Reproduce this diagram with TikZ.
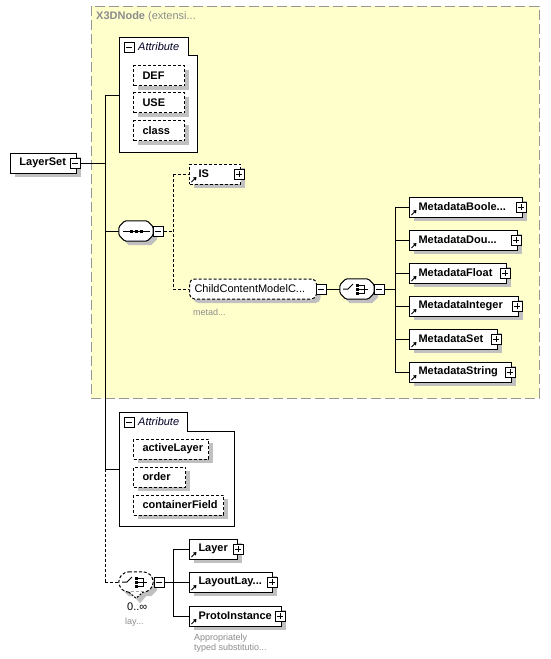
\documentclass[tikz,border=0pt]{standalone}
\usepackage{fontspec}
\setmainfont{Liberation Sans}
\usetikzlibrary{shadows,arrows.meta}
\definecolor{bgyellow}{RGB}{255,255,204}
\definecolor{bordergrey}{RGB}{150,150,150}
\definecolor{shadowgrey}{RGB}{192,192,192}
\definecolor{txtgrey}{RGB}{140,140,140}
\newcommand{\efont}{\fontsize{11}{13}\selectfont}
\newcommand{\sfontx}{\fontsize{9}{10.5}\selectfont}
\newcommand{\refarrow}[1]{\draw[line width=1pt,-{Triangle[length=3pt,width=4pt]}] ([xshift=2.5pt,yshift=2.5pt]#1.south west) -- ++(5,-5);}
\newcommand{\choicesym}[1]{\begin{scope}[shift={(#1)}]
 \draw[line width=1pt] (-14,0) -- (-9,0) -- (-4,-5);
 \fill (-1,-5.5) rectangle (2,-2.5); \fill (-1,-1.5) rectangle (2,1.5); \fill (-1,2.5) rectangle (2,5.5);
 \draw[line width=1pt] (2,-4) -- (7,-4) -- (7,4) -- (2,4); \draw[line width=1pt] (2,0) -- (11,0);
\end{scope}}
\newcommand{\seqsym}[1]{\begin{scope}[shift={(#1)}]
 \draw[line width=1pt] (-13,0) -- (14,0);
 \fill (-6.5,-1.5) rectangle (-3.5,1.5); \fill (-1.5,-1.5) rectangle (1.5,1.5); \fill (3.5,-1.5) rectangle (6.5,1.5);
\end{scope}}
\newcommand{\octopath}[3]{([xshift=#2+6pt,yshift=#3]#1.north west) -- ([xshift=#2-6pt,yshift=#3]#1.north east) -- ([xshift=#2,yshift=#3-6pt]#1.north east) -- ([xshift=#2,yshift=#3+6pt]#1.south east) -- ([xshift=#2-6pt,yshift=#3]#1.south east) -- ([xshift=#2+6pt,yshift=#3]#1.south west) -- ([xshift=#2,yshift=#3+6pt]#1.south west) -- ([xshift=#2,yshift=#3-6pt]#1.north west) -- cycle}
\tikzset{
 ln/.style={line width=1pt},
 dsh/.style={line width=1pt, dash pattern=on 3pt off 2pt},
 shad/.style={drop shadow={shadow xshift=4pt, shadow yshift=-4pt, fill=shadowgrey, opacity=1}},
 elem/.style={draw, line width=1pt, fill=white, shad, rectangle, minimum height=20pt, inner xsep=9pt, inner ysep=0pt, align=left, font=\efont\bfseries, anchor=west},
 opt/.style={dash pattern=on 3pt off 2pt},
 compbase/.style={rectangle, minimum width=34pt, minimum height=20pt, inner sep=0pt},
 minusbox/.style={draw, line width=1pt, fill=white, minimum size=10pt, inner sep=0pt,
   path picture={\draw[line width=1pt] ([xshift=2pt]path picture bounding box.west) -- ([xshift=-2pt]path picture bounding box.east);}},
 plusbox/.style={draw, line width=1pt, fill=white, minimum size=10pt, inner sep=0pt,
   path picture={\draw[line width=1pt] ([xshift=2pt]path picture bounding box.west) -- ([xshift=-2pt]path picture bounding box.east);
                 \draw[line width=1pt] ([yshift=-2pt]path picture bounding box.north) -- ([yshift=2pt]path picture bounding box.south);}},
 attrbox/.style={draw, line width=1pt, fill=white},
 attrlbl/.style={font=\efont\itshape, anchor=west, inner sep=0pt, text=black!85!blue},
 note/.style={font=\sfontx, text=txtgrey, anchor=west, inner sep=0pt, align=left},
}
\begin{document}
\begin{tikzpicture}[x=1pt,y=-1pt]
\useasboundingbox (0,0) rectangle (550,659);
\fill[white] (0,0) rectangle (550,659);
% extension region
\fill[bgyellow] (91,6) rectangle (539,398);
\draw[bordergrey, line width=1pt, dash pattern=on 10pt off 4pt] (91,6) rectangle (539,398);
\node[anchor=west, inner sep=0pt, text=txtgrey, font=\efont] (x3d) at (96,17) {\textbf{X3DNode} (extensi...};

% top attribute group
\draw[attrbox] (119,37) -- (188,37) -- (188,55) -- (197,55) -- (197,152) -- (119,152) -- cycle;
\node[minusbox] (am1) at (129,47) {};
\node[attrlbl] (al1) at (138,47) {Attribute};
\coordinate (attrA) at (119,95);
\node[elem, opt, text width=33pt] (def) at (133,75.5) {DEF};
\node[elem, opt, text width=33pt] (use) at (133,102.5) {USE};
\node[elem, opt, text width=33pt] (cls) at (133,130.5) {class};

% LayerSet
\node[elem, text width=48pt] (ls) at (10,163) {LayerSet};
\node[minusbox] (lsm) at (75,163) {};
\coordinate (j0) at (105,163);
\coordinate (ja) at (105,95);
\coordinate (js) at (105,231);
\coordinate (jb) at (105,469);
\coordinate (jc) at (105,582);
\coordinate (attrB) at (119,469);
\draw[ln] (lsm.east) -- (j0);
\draw[ln] (ja) -- (jb);
\draw[ln] (ja) -- (attrA);
\draw[ln] (jb) -- (attrB);

% sequence
\node[compbase] (seq) at (136,231) {};
\fill[shadowgrey] \octopath{seq}{4pt}{-4pt};
\draw[ln, fill=white, rounded corners=1.5pt] \octopath{seq}{0pt}{0pt};
\seqsym{seq.center}
\node[minusbox] (seqm) at (158,231) {};
\draw[ln] (js) -- (seq.west);
\coordinate (sj) at (173,231);
\coordinate (sjt) at (173,174);
\coordinate (sjb) at (173,289);
\draw[dsh] (seqm.east) -- (sj);
\draw[dsh] (sjt) -- (sjb);

% IS
\node[elem, opt, text width=33pt] (is) at (189,174) {IS};
\refarrow{is}
\node[plusbox] (isp) at (239,174) {};
\draw[dsh] (sjt) -- (is.west);

% ChildContentModel group
\node[draw, line width=1pt, opt, fill=white, shad, rounded corners=5pt, minimum width=127pt, minimum height=20pt, inner xsep=5pt, inner ysep=0pt, text width=117pt, align=left, font=\efont, anchor=west] (ccm) at (189,289) {ChildContentModelC...};
\node[minusbox] (ccmm) at (321,289) {};
\node[note] (metad) at (193,312) {metad...};
\draw[dsh] (sjb) -- (ccm.west);

% choice 1
\node[compbase] (ch1) at (357,289) {};
\fill[shadowgrey] \octopath{ch1}{4pt}{-4pt};
\draw[ln, fill=white, rounded corners=1.5pt] \octopath{ch1}{0pt}{0pt};
\choicesym{ch1.center}
\node[minusbox] (ch1m) at (379,289) {};
\draw[ln] (ccmm.east) -- (ch1.west);
\coordinate (mj) at (395,289);
\coordinate (mjt) at (395,207);
\coordinate (mjb) at (395,372);
\draw[ln] (ch1m.east) -- (mj);
\draw[ln] (mjt) -- (mjb);

% Metadata elements
\node[elem, text width=95pt] (m1) at (409,207) {MetadataBoole...};
\node[elem, text width=90pt] (m2) at (409,240) {MetadataDou...};
\node[elem, text width=79pt] (m3) at (409,273) {MetadataFloat};
\node[elem, text width=91pt] (m4) at (409,306) {MetadataInteger};
\node[elem, text width=70pt] (m5) at (409,339) {MetadataSet};
\node[elem, text width=84pt] (m6) at (409,372) {MetadataString};
\foreach \n in {m1,m2,m3,m4,m5,m6}{\refarrow{\n}}
\node[plusbox] (m1p) at (521,207) {};
\node[plusbox] (m2p) at (516,240) {};
\node[plusbox] (m3p) at (505,273) {};
\node[plusbox] (m4p) at (517,306) {};
\node[plusbox] (m5p) at (496,339) {};
\node[plusbox] (m6p) at (510,372) {};
\coordinate (k1) at (395,207);
\coordinate (k2) at (395,240);
\coordinate (k3) at (395,273);
\coordinate (k4) at (395,306);
\coordinate (k5) at (395,339);
\coordinate (k6) at (395,372);
\draw[ln] (k1) -- (m1.west);
\draw[ln] (k2) -- (m2.west);
\draw[ln] (k3) -- (m3.west);
\draw[ln] (k4) -- (m4.west);
\draw[ln] (k5) -- (m5.west);
\draw[ln] (k6) -- (m6.west);

% lower attribute group
\draw[attrbox] (119,412) -- (187,412) -- (187,431) -- (234,431) -- (234,526) -- (119,526) -- cycle;
\node[minusbox] (am2) at (129,422) {};
\node[attrlbl] (al2) at (138,422) {Attribute};
\node[elem, opt, text width=57pt] (act) at (133,449) {activeLayer};
\node[elem, opt, text width=34pt] (ord) at (133,477) {order};
\node[elem, opt, text width=72pt] (cf) at (133,505) {containerField};

% choice 2
\draw[dsh] (jb) -- (jc);
\node[compbase] (ch2) at (136,582) {};
\fill[shadowgrey] \octopath{ch2}{4pt}{-4pt};
\fill[shadowgrey] ([xshift=-3pt,yshift=-3pt]ch2.south) -- ([xshift=4pt,yshift=-11pt]ch2.south) -- ([xshift=11pt,yshift=-3pt]ch2.south) -- cycle;
\draw[ln, opt, fill=white, rounded corners=4pt] \octopath{ch2}{0pt}{0pt};
\draw[line width=1pt, dash pattern=on 2pt off 1.5pt, fill=white] ([xshift=-7pt]ch2.south) -- ([yshift=-6pt]ch2.south) -- ([xshift=7pt]ch2.south);
\choicesym{ch2.center}
\node[minusbox] (ch2m) at (159,582) {};
\draw[dsh] (jc) -- (ch2.west);
\coordinate (bj) at (173,582);
\coordinate (bjt) at (173,549);
\coordinate (bjb) at (173,616);
\draw[ln] (ch2m.east) -- (bj);
\draw[ln] (bjt) -- (bjb);
\node[font=\efont, anchor=west, inner sep=0pt] (mult) at (127,607) {0..∞};
\node[note] (lay) at (125,622) {lay...};

\node[elem, text width=30pt] (layer) at (189,549) {Layer};
\node[elem, text width=65pt] (lyt) at (189,582) {LayoutLay...};
\node[elem, text width=74pt] (proto) at (189,616) {ProtoInstance};
\refarrow{layer}\refarrow{lyt}\refarrow{proto}
\node[plusbox] (layerp) at (238,549) {};
\node[plusbox] (lytp) at (272,582) {};
\node[plusbox] (protop) at (280,616) {};
\draw[ln] (bjt) -- (layer.west);
\draw[ln] (bj) -- (lyt.west);
\draw[ln] (bjb) -- (proto.west);
\node[note] (appr) at (194,643) {Appropriately\\typed substitutio...};
\end{tikzpicture}
\end{document}
